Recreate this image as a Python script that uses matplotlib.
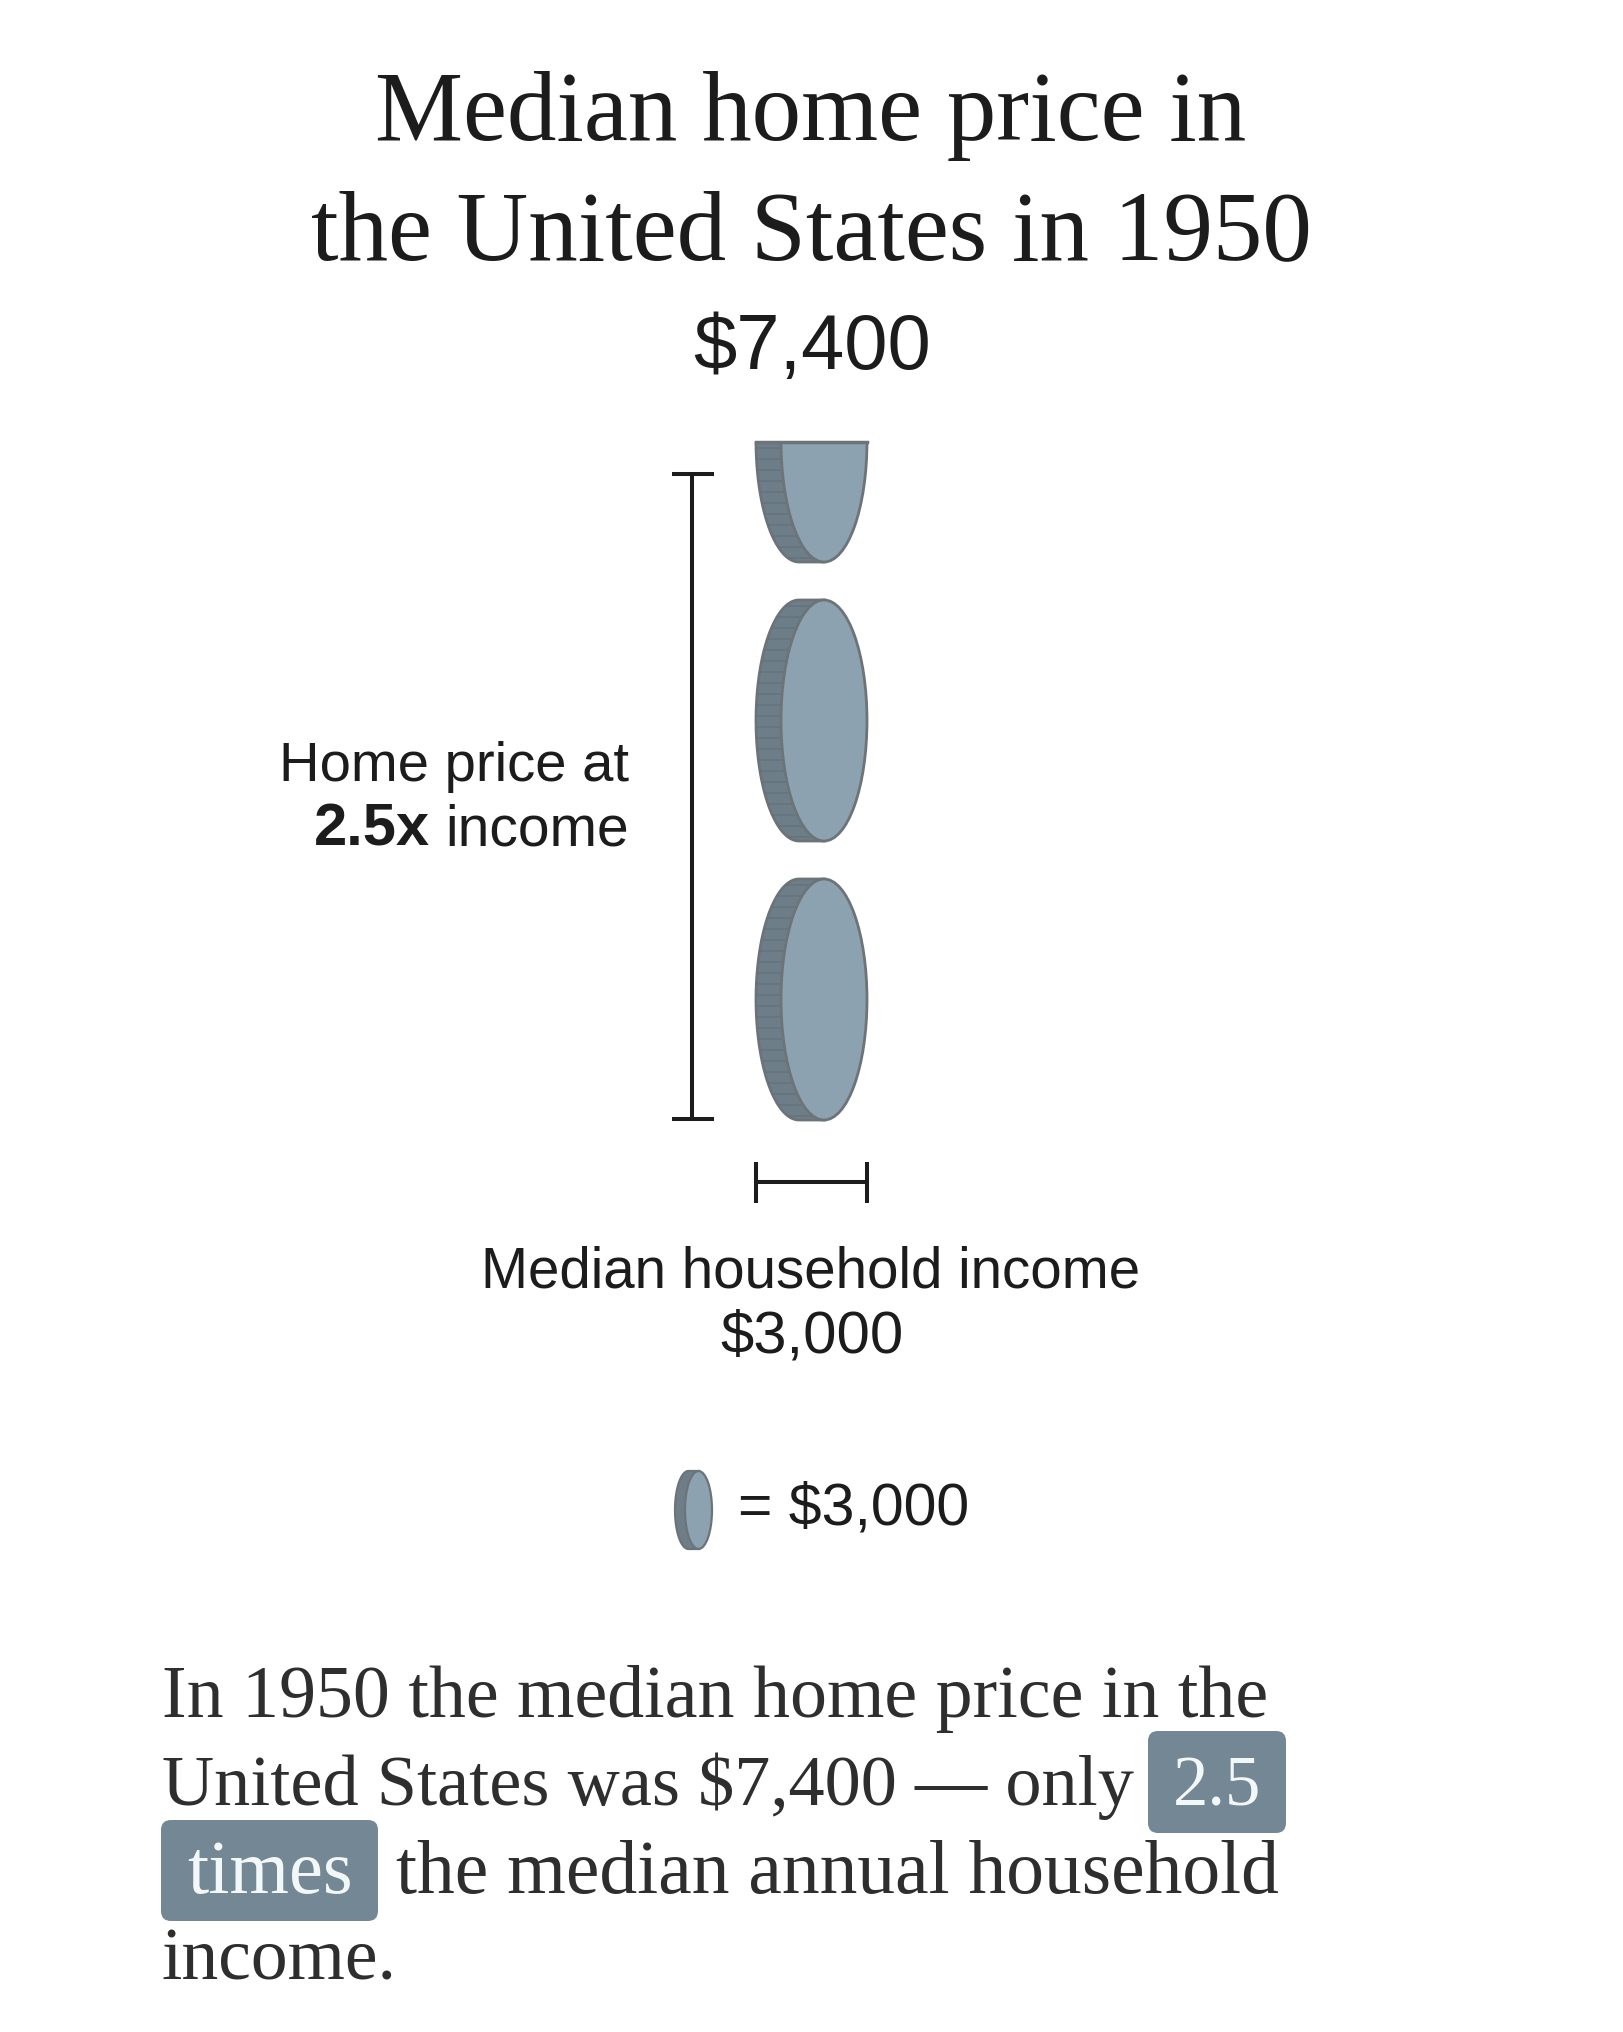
import numpy as np
import matplotlib
matplotlib.use('Agg')
import matplotlib.pyplot as plt
from matplotlib.patches import Ellipse, Polygon, Rectangle, FancyBboxPatch

# values
home_price = 7400
income = 3000
multiple = 2.5
sTitle = ['Median home price in', 'the United States in 1950']
sPrice = '$7,400'
sIncome_label = 'Median household income'
sIncome = '$3,000'
sKey = '= $3,000'

serif = 'Liberation Serif'
sans = 'Liberation Sans'
ink = '#1c1c1c'
body_ink = '#2e2e2e'
coin_face = '#8ca2b1'
coin_side = '#6e7e89'
coin_ridge = '#5f6e78'
coin_line = '#6c7478'
pill = '#748794'

fig = plt.figure(figsize=(16.24, 20.32), dpi=100)
ax = fig.add_axes([0, 0, 1, 1])
ax.set_xlim(0, 1624)
ax.set_ylim(2032, 0)
ax.axis('off')


def draw_coin(cx, cy, rx, ry, depth, top=None, ridges=True, lw=2.0):
    # side of the coin, left half of the back face plus the join to the front
    t = np.radians(np.linspace(90, 270, 80))
    xs = cx - depth + rx * np.cos(t)
    ys = cy + ry * np.sin(t)
    pts = np.column_stack([xs, ys])
    pts = np.vstack([pts, [cx, cy - ry], [cx, cy + ry]])
    side = Polygon(pts, closed=True, fc=coin_side, ec=coin_line, lw=lw, zorder=2)
    ax.add_patch(side)
    face = Ellipse((cx, cy), 2 * rx, 2 * ry, fc=coin_face, ec=coin_line, lw=lw, zorder=4)
    ax.add_patch(face)
    if ridges:
        y = cy - ry + 6
        while y < cy + ry:
            if top is None or y > top:
                r, = ax.plot([cx - depth - rx, cx + 2], [y, y], color=coin_ridge, lw=1.2, alpha=0.6, zorder=3)
                r.set_clip_path(side)
            y += 11
    if top is not None:
        box = Rectangle((cx - depth - rx - 5, top), 2 * rx + depth + 10, 2 * ry, transform=ax.transData)
        side.set_clip_path(box)
        face.set_clip_path(box)
        ax.plot([cx - depth - rx, cx + rx], [top, top], color=coin_line, lw=lw + 0.5, zorder=5)


# stack of coins, one coin per year of income, bottom up
coin_h = 241
pitch = 279
stack_bottom = 1120
n_full = int(multiple)
for i in range(n_full):
    draw_coin(824, stack_bottom - coin_h / 2 - i * pitch, 43, coin_h / 2, 25)
part = multiple - n_full
if part > 0:
    cy = stack_bottom - coin_h / 2 - n_full * pitch
    draw_coin(824, cy, 43, coin_h / 2, 25, top=cy + coin_h / 2 - part * coin_h)

# brackets
bracket_lw = 2.9
ax.plot([692, 692], [474, 1119], color=ink, lw=bracket_lw, solid_capstyle='butt')
ax.plot([672, 714], [474, 474], color=ink, lw=bracket_lw, solid_capstyle='butt')
ax.plot([672, 714], [1119, 1119], color=ink, lw=bracket_lw, solid_capstyle='butt')
ax.plot([756, 867], [1182, 1182], color=ink, lw=bracket_lw, solid_capstyle='butt')
ax.plot([756, 756], [1162, 1203], color=ink, lw=bracket_lw, solid_capstyle='butt')
ax.plot([867, 867], [1162, 1203], color=ink, lw=bracket_lw, solid_capstyle='butt')

# key coin
draw_coin(698.5, 1510, 13.5, 39, 10, ridges=False, lw=1.6)

# title
ax.text(811, 140, sTitle[0], family=serif, fontsize=71.3, color=ink, ha='center', va='baseline')
ax.text(811, 259, sTitle[1], family=serif, fontsize=71.3, color=ink, ha='center', va='baseline')
ax.text(812, 369, sPrice, family=sans, fontsize=56, color=ink, ha='center', va='baseline')

# labels
ax.text(629, 781, 'Home price at', family=sans, fontsize=40.5, color=ink, ha='right', va='baseline')
ax.text(629, 846, 'income', family=sans, fontsize=41, color=ink, ha='right', va='baseline')
ax.text(430, 846, '2.5x', family=sans, fontsize=43, fontweight='bold', color=ink, ha='right', va='baseline')
ax.text(811, 1288, sIncome_label, family=sans, fontsize=40.7, color=ink, ha='center', va='baseline')
ax.text(812, 1352, sIncome, family=sans, fontsize=43, color=ink, ha='center', va='baseline')
ax.text(738, 1524, sKey, family=sans, fontsize=42.5, color=ink, ha='left', va='baseline')

# body text, highlighted words sit on rounded boxes
for x0, y0, x1, y1 in [(1148, 1731, 1286, 1833), (161, 1820, 378, 1921)]:
    ax.add_patch(FancyBboxPatch((x0 + 10, y0 + 10), x1 - x0 - 20, y1 - y0 - 20,
                                boxstyle='round,pad=10,rounding_size=10', fc=pill, ec='none', zorder=2))
ax.text(162, 1717, 'In 1950 the median home price in the', family=serif, fontsize=53.2, color=body_ink, va='baseline')
ax.text(162, 1805, 'United States was $7,400 — only', family=serif, fontsize=52, color=body_ink, va='baseline')
ax.text(1217, 1805, '2.5', family=serif, fontsize=51, color='#f2f7f8', ha='center', va='baseline', zorder=3)
ax.text(270, 1893, 'times', family=serif, fontsize=55, color='#f2f7f8', ha='center', va='baseline', zorder=3)
ax.text(396, 1893, 'the median annual household', family=serif, fontsize=54.4, color=body_ink, va='baseline')
ax.text(162, 1980, 'income.', family=serif, fontsize=53, color=body_ink, va='baseline')

fig.savefig('out.png', dpi=100, facecolor='white')
